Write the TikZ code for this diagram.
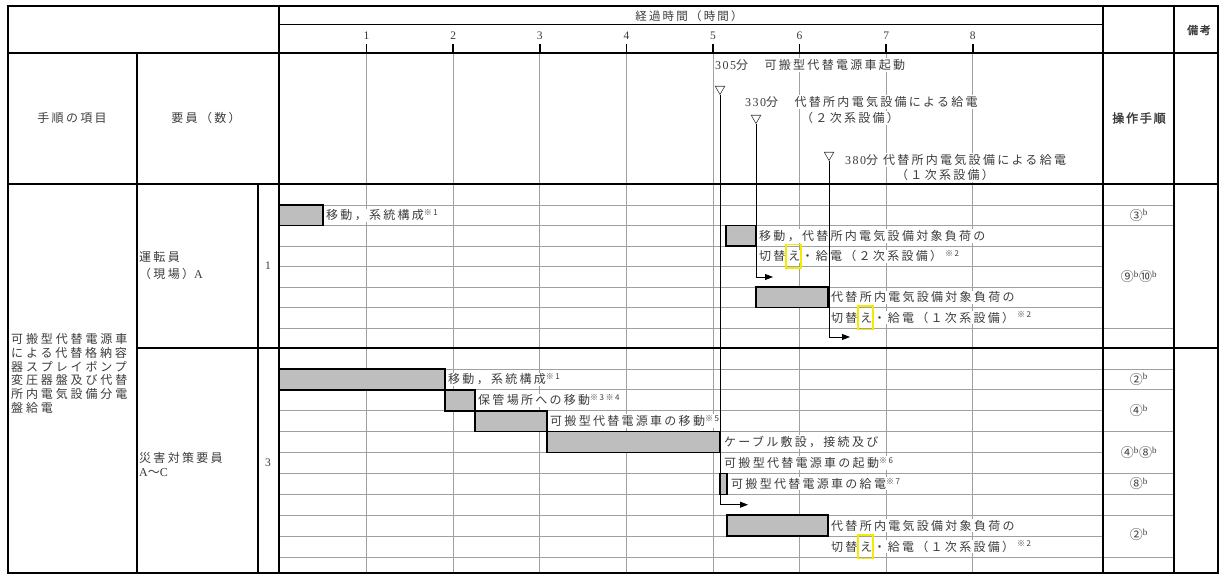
\documentclass[tikz,border=0pt]{standalone}
\usepackage{fontspec}
\setmainfont{Noto Sans CJK JP}[LetterSpace=19]
\newfontfamily\lat{Liberation Serif}[LetterSpace=12]
\newfontfamily\jbold{Noto Sans CJK JP}[FakeBold=2,LetterSpace=15]
\usetikzlibrary{arrows.meta,shapes.geometric}
\definecolor{txt}{HTML}{3C3C3C}
\definecolor{gridc}{HTML}{A0A0A0}
\definecolor{barfill}{HTML}{BEBEBE}
\definecolor{ybox}{HTML}{F5EB00}
\newcommand\yelbox[1]{{\setlength\fboxsep{0pt}\setlength\fboxrule{1.3pt}\color{ybox}\smash{\fbox{\hspace{1.5pt}\rule[-6.5pt]{0pt}{22pt}\color{txt}#1}}}}
\newcommand\nt[1]{\textsuperscript{#1}}
\begin{document}
\begin{tikzpicture}[x=1pt,y=-1pt,
  gridline/.style={draw=gridc,line width=0.8pt},
  thickline/.style={draw=black,line width=1.6pt},
  barbox/.style={draw=black,line width=1.6pt,fill=barfill},
  body/.style={anchor=base west,inner sep=1pt,fill=white,text=txt,font=\fontsize{12}{14}\selectfont},
  ann/.style={anchor=base west,inner sep=1pt,fill=white,text=txt,font=\fontsize{12}{14}\selectfont},
  head/.style={text=txt,inner sep=1pt,font=\fontsize{12}{14}\selectfont},
  op/.style={text=txt,inner sep=0pt,font=\fontsize{13}{14}\selectfont},
  hnum/.style={text=txt,inner sep=0pt,font=\lat\fontsize{11.5}{12}\selectfont},
  tri/.style={draw=txt,line width=0.6pt,fill=white,regular polygon,regular polygon sides=3,shape border rotate=180,minimum size=11pt,inner sep=0pt},
  conn/.style={draw=black,line width=0.9pt,-{Triangle[length=8pt,width=6pt]}}]
\useasboundingbox (0,0) rectangle (1226,577);
\fill[white] (0,0) rectangle (1226,577);

% hour grid lines
\foreach \h in {1,...,8} \draw[gridline] ({280+86.6*\h},53) -- ({280+86.6*\h},573);
% row lines group A
\foreach \y in {205,225.5,246,266.5,287,307.5,328} \draw[gridline] (279,\y) -- (1103,\y);
% row lines group B
\foreach \k in {1,...,10} \draw[gridline] (279,{348+20.9*\k}) -- (1103,{348+20.9*\k});
% operation column lines
\foreach \y in {205,225.5,328} \draw[gridline] (1103,\y) -- (1174,\y);
\foreach \k in {1,2,4,6,7,8,10} \draw[gridline] (1103,{348+20.9*\k}) -- (1174,{348+20.9*\k});

% bars group A
\draw[barbox] (279,205) rectangle (323,225.5);
\draw[barbox] (726,225.5) rectangle (756,246);
\draw[barbox] (756,287) rectangle (828,307.5);
% bars group B
\draw[barbox] (279,368.9) rectangle (445,389.8);
\draw[barbox] (445,389.8) rectangle (475,410.7);
\draw[barbox] (475,410.7) rectangle (547,431.6);
\draw[barbox] (547,431.6) rectangle (720,452.5);
\draw[barbox] (720,473.4) rectangle (727,494.3);
\draw[barbox] (727,515.2) rectangle (828,536.1);

% header texts
\node[head,font=\fontsize{11.5}{13}\selectfont] (hTime) at (689,16) {経過時間（時間）};
\foreach \h in {1,...,8} \node[hnum] (hn\h) at ({280+86.6*\h},36) {\h};
\node[head] (hProc) at (72,118) {手順の項目};
\node[head] (hStaff) at (206,118) {要員（数）};
\node[head,font=\jbold\fontsize{12}{14}\selectfont] (hOp) at (1139,118) {操作手順};
\node[head,font=\jbold\fontsize{11}{13}\selectfont] (hNote) at (1199,30) {備考};

% header annotations
\node[ann] (a305) at (714,69.5) {{\lat 305}分　可搬型代替電源車起動};
\node[tri] (tri1) at (720,89) {};
\node[ann] (a330) at (744,106.5) {{\lat 330}分　代替所内電気設備による給電};
\node[ann] (a330b) at (800,122.5) {（２次系設備）};
\node[tri] (tri2) at (756,118) {};
\node[tri] (tri3) at (829,155) {};
\node[ann] (a380) at (844,164.5) {{\lat 380}分 代替所内電気設備による給電};
\node[ann] (a380b) at (895,179.5) {（１次系設備）};

% left texts
\node[text=txt,inner sep=0pt,anchor=north west,align=left,font=\fontsize{12}{13.9}\selectfont\addfontfeature{LetterSpace=24}] (task) at (11,333) {可搬型代替電源車\\による代替格納容\\器スプレイポンプ\\変圧器盤及び代替\\所内電気設備分電\\盤給電};
\node[text=txt,inner sep=0pt,anchor=west,align=left,font=\fontsize{12}{14}\selectfont] (staffA) at (139,266) {運転員\\[3pt]（現場）{\lat A}};
\node[text=txt,inner sep=0pt,anchor=west,align=left,font=\fontsize{12}{14}\selectfont] (staffB) at (139,464) {災害対策要員\\{\lat A}～{\lat C}};
\node[text=txt,inner sep=0pt,font=\lat\fontsize{11.5}{12}\selectfont] (cntA) at (268,266) {1};
\node[text=txt,inner sep=0pt,font=\lat\fontsize{11.5}{12}\selectfont] (cntB) at (268,463) {3};

% body texts group A
\node[body] (ta1) at (325,219.8) {移動，系統構成\nt{※1}};
\node[body] (ta2) at (758,240.3) {移動，代替所内電気設備対象負荷の};
\node[body] (ta3) at (758,260.8) {切替\yelbox{え}・給電（２次系設備）\hspace{3pt}\nt{※2}};
\node[body] (ta5) at (830,301.8) {代替所内電気設備対象負荷の};
\node[body] (ta6) at (830,322.3) {切替\yelbox{え}・給電（１次系設備）\hspace{3pt}\nt{※2}};
% body texts group B
\node[body] (tb2) at (447,383.9) {移動，系統構成\nt{※1}};
\node[body] (tb3) at (477,404.8) {保管場所への移動\nt{※3※4}};
\node[body] (tb4) at (549,425.7) {可搬型代替電源車の移動\nt{※5}};
\node[body] (tb5) at (723,446.6) {ケーブル敷設，接続及び};
\node[body] (tb6) at (723,467.5) {可搬型代替電源車の起動\nt{※6}};
\node[body] (tb7) at (730,488.4) {可搬型代替電源車の給電\nt{※7}};
\node[body] (tb9) at (830,530.2) {代替所内電気設備対象負荷の};
\node[body] (tb10) at (830,551.1) {切替\yelbox{え}・給電（１次系設備）\hspace{3pt}\nt{※2}};

% operation column
\node[op] (opA1) at (1139,215.3) {③\nt{\lat b}};
\node[op] (opA2) at (1139,277) {⑨\nt{\lat b}⑩\nt{\lat b}};
\node[op] (opB1) at (1139,379.4) {②\nt{\lat b}};
\node[op] (opB2) at (1139,410.7) {④\nt{\lat b}};
\node[op] (opB3) at (1139,452.5) {④\nt{\lat b}⑧\nt{\lat b}};
\node[op] (opB4) at (1139,483.9) {⑧\nt{\lat b}};
\node[op] (opB5) at (1139,535) {②\nt{\lat b}};

% thick frame lines
\draw[thickline] (8,6) rectangle (1218,573);
\draw[thickline] (8,53) -- (1218,53);
\draw[thickline] (8,184) -- (1218,184);
\draw[thickline] (137,348) -- (1218,348);
\draw[thickline] (279,6) -- (279,573);
\draw[thickline] (1103,6) -- (1103,573);
\draw[thickline] (1174,6) -- (1174,573);
\draw[thickline] (137,53) -- (137,573);
\draw[thickline] (258,184) -- (258,573);
\draw[draw=black,line width=1pt] (279,25) -- (1103,25);
\foreach \h in {1,...,8} \draw[thickline] ({280+86.6*\h},44) -- ({280+86.6*\h},53);

% connectors
\coordinate (e1) at (748,504.7);
\coordinate (e2) at (773,277);
\coordinate (e3) at (850,337);
\draw[conn] (tri1.south) |- (e1);
\draw[conn] (tri2.south) |- (e2);
\draw[conn] (tri3.south) |- (e3);
\end{tikzpicture}
\end{document}
